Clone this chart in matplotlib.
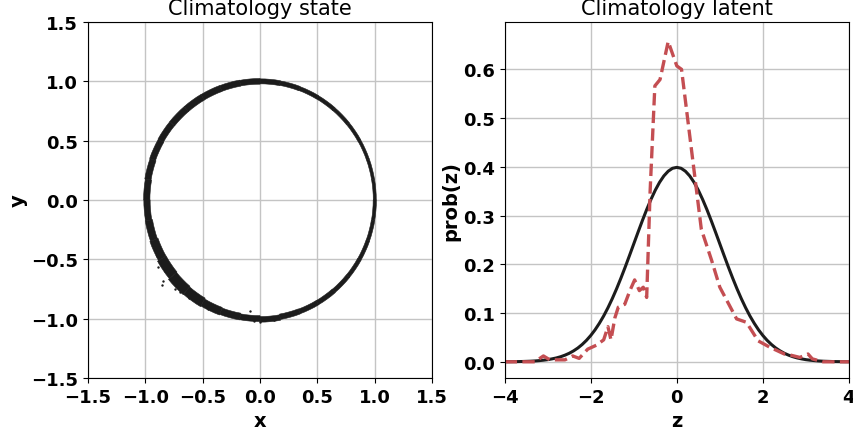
import numpy as np
import matplotlib
matplotlib.use('Agg')
import matplotlib.pyplot as plt
from matplotlib.patches import Wedge

# ring of states: sector start angle (deg), inner/outer radius of the band
ring_angle = [0, 10, 20, 30, 40, 50, 60, 70, 80, 90, 100, 110, 120, 130, 140, 150, 160, 170,
              180, 190, 200, 210, 220, 230, 240, 250, 260, 270, 280, 290, 300, 310, 320, 330, 340, 350]
ring_outer = [1.013, 1.013, 1.013, 1.014, 1.015, 1.016, 1.017, 1.019, 1.021, 1.024, 1.026, 1.027,
              1.028, 1.028, 1.027, 1.024, 1.020, 1.015, 1.013, 1.016, 1.022, 1.032, 1.042, 1.038,
              1.032, 1.027, 1.025, 1.030, 1.023, 1.021, 1.020, 1.018, 1.017, 1.016, 1.015, 1.014]
ring_inner = [0.987, 0.987, 0.987, 0.986, 0.985, 0.984, 0.983, 0.981, 0.979, 0.976, 0.974, 0.973,
              0.972, 0.972, 0.973, 0.970, 0.965, 0.960, 0.958, 0.952, 0.946, 0.945, 0.950, 0.956,
              0.964, 0.969, 0.975, 0.983, 0.977, 0.979, 0.980, 0.982, 0.983, 0.984, 0.985, 0.986]

# stray states outside the band
stray_x = [-0.887, -0.843, -0.857, -0.814, -0.741, -0.80, -0.78, -0.83, -0.70, -0.087, 0.0, -0.05, -0.99,
           -0.97, -0.90, -0.76, -0.62, -0.45, 0.12]
stray_y = [-0.567, -0.685, -0.714, -0.511, -0.750, -0.58, -0.62, -0.60, -0.78, -0.935, -1.03, -1.02, -0.15,
           -0.25, -0.47, -0.68, -0.83, -0.92, -1.01]

# latent densities
z_gauss = [-4.0, -3.9, -3.8, -3.7, -3.6, -3.5, -3.4, -3.3, -3.2, -3.1, -3.0, -2.9, -2.8, -2.7, -2.6, -2.5,
           -2.4, -2.3, -2.2, -2.1, -2.0, -1.9, -1.8, -1.7, -1.6, -1.5, -1.4, -1.3, -1.2, -1.1, -1.0, -0.9,
           -0.8, -0.7, -0.6, -0.5, -0.4, -0.3, -0.2, -0.1, 0.0, 0.1, 0.2, 0.3, 0.4, 0.5, 0.6, 0.7, 0.8,
           0.9, 1.0, 1.1, 1.2, 1.3, 1.4, 1.5, 1.6, 1.7, 1.8, 1.9, 2.0, 2.1, 2.2, 2.3, 2.4, 2.5, 2.6, 2.7,
           2.8, 2.9, 3.0, 3.1, 3.2, 3.3, 3.4, 3.5, 3.6, 3.7, 3.8, 3.9, 4.0]
p_gauss = [0.0001, 0.0002, 0.0003, 0.0004, 0.0006, 0.0009, 0.0012, 0.0017, 0.0024, 0.0033, 0.0044,
           0.0060, 0.0079, 0.0104, 0.0136, 0.0175, 0.0224, 0.0283, 0.0355, 0.0440, 0.0540, 0.0656,
           0.0790, 0.0940, 0.1109, 0.1295, 0.1497, 0.1714, 0.1942, 0.2179, 0.2420, 0.2661, 0.2897,
           0.3123, 0.3332, 0.3521, 0.3683, 0.3814, 0.3910, 0.3970, 0.3989, 0.3970, 0.3910, 0.3814,
           0.3683, 0.3521, 0.3332, 0.3123, 0.2897, 0.2661, 0.2420, 0.2179, 0.1942, 0.1714, 0.1497,
           0.1295, 0.1109, 0.0940, 0.0790, 0.0656, 0.0540, 0.0440, 0.0355, 0.0283, 0.0224, 0.0175,
           0.0136, 0.0104, 0.0079, 0.0060, 0.0044, 0.0033, 0.0024, 0.0017, 0.0012, 0.0009, 0.0006,
           0.0004, 0.0003, 0.0002, 0.0001]

z_clim = [-4.0, -3.3, -3.1, -2.95, -2.6, -2.42, -2.27, -2.07, -1.87, -1.7, -1.6, -1.53, -1.44, -1.36, -1.21,
          -1.09, -0.98, -0.87, -0.78, -0.70, -0.62, -0.51, -0.39, -0.20, 0.0, 0.11, 0.57, 0.81, 1.0, 1.39,
          1.62, 1.89, 2.16, 2.50, 2.63, 2.86, 3.05, 3.15, 3.4, 4.0]
p_clim = [0.0, 0.0, 0.012, 0.004, 0.004, 0.012, 0.007, 0.026, 0.034, 0.045, 0.072, 0.045, 0.090, 0.112, 0.118,
          0.146, 0.168, 0.146, 0.153, 0.132, 0.350, 0.566, 0.579, 0.657, 0.607, 0.600, 0.272, 0.208, 0.153, 0.088,
          0.081, 0.043, 0.030, 0.016, 0.014, 0.009, 0.016, 0.006, 0.0, 0.0]

plt.rcParams['font.family'] = ['DejaVu Sans']

fig = plt.figure(figsize=(8.54, 4.35), dpi=100)
ax1 = fig.add_axes([0.103, 0.129, 0.403, 0.818])
ax2 = fig.add_axes([0.591, 0.129, 0.403, 0.818])

ink = '#1c1c1c'

# left: state climatology, drawn as a band of wedge sectors
ends = ring_angle[1:] + [360]
for a0, a1, ro, ri in zip(ring_angle, ends, ring_outer, ring_inner):
    ax1.add_patch(Wedge((0, 0), ro, a0, a1, width=ro - ri, fc=ink, ec=ink, lw=0.4))
ax1.scatter(stray_x, stray_y, s=3, color=ink, lw=0)

ax1.set_xlim(-1.5, 1.5)
ax1.set_ylim(-1.5, 1.5)
ax1.set_xticks(np.arange(-1.5, 1.51, 0.5))
ax1.set_yticks(np.arange(-1.5, 1.51, 0.5))
ax1.set_title('Climatology state', fontsize=15)
ax1.set_xlabel('x', fontsize=14, fontweight='bold')
ax1.set_ylabel('y', fontsize=14, fontweight='bold')
ax1.yaxis.set_label_coords(-0.176, 0.5)

# right: latent climatology
ax2.plot(z_gauss, p_gauss, color=ink, lw=2.2)
ax2.plot(z_clim, p_clim, color='#c44e52', lw=2.4, ls='--')
ax2.set_xlim(-4, 4)
ax2.set_xticks([-4, -2, 0, 2, 4])
ax2.set_yticks([0.0, 0.1, 0.2, 0.3, 0.4, 0.5, 0.6])
ax2.set_ylim(-0.033, 0.697)
ax2.set_title('Climatology latent', fontsize=15)
ax2.set_xlabel('z', fontsize=14, fontweight='bold')
ax2.set_ylabel('prob(z)', fontsize=14, fontweight='bold')
ax2.yaxis.set_label_coords(-0.13, 0.5)

for ax in (ax1, ax2):
    ax.set_axisbelow(True)
    ax.grid(True, color='#c4c4c4', lw=1.0)
    for lab in ax.get_xticklabels() + ax.get_yticklabels():
        lab.set_fontweight('bold')
        lab.set_fontsize(13)

plt.savefig('out.png', dpi=100)
